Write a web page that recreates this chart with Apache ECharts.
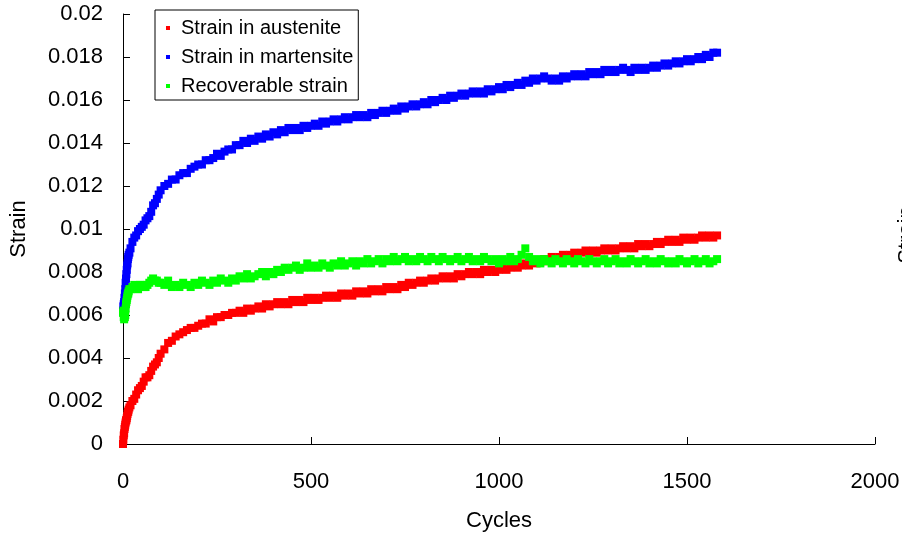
<!DOCTYPE html>
<html>
<head>
<meta charset="utf-8">
<script src="https://cdn.jsdelivr.net/npm/echarts@6/dist/echarts.min.js"></script>
<style>html,body{margin:0;padding:0;background:#fff;}#c{width:902px;height:536px;}</style>
</head>
<body>
<div id="c"></div>
<script>
const cycles = [0,1,2,3,4,5,6,7,8,9,10,11,12,13,14,15,17,
20,25,30,35,40,45,50,55,60,65,70,75,80,85,90,95,100,
110,120,130,140,150,160,170,180,190,200,210,
220,230,240,250,260,270,280,290,300,310,
320,330,340,350,360,370,380,390,400,410,
420,430,440,450,460,470,480,490,500,510,
520,530,540,550,560,570,580,590,600,610,
620,630,640,650,660,670,680,690,700,710,
720,730,740,750,760,770,780,790,800,810,
820,830,840,850,860,870,880,890,900,910,
920,930,940,950,960,970,980,990,1000,1010,
1020,1030,1040,1050,1060,1070,1080,1090,1100,1110,
1120,1130,1140,1150,1160,1170,1180,1190,1200,1210,
1220,1230,1240,1250,1260,1270,1280,1290,1300,1310,
1320,1330,1340,1350,1360,1370,1380,1390,1400,1410,
1420,1430,1440,1450,1460,1470,1480,1490,1500,1510,
1520,1530,1540,1550,1560,1570,1580];

const austenite = [0.0000,0.0002,0.0004,0.0005,0.0007,0.0008,0.0009,0.0010,0.0011,0.0011,0.0012,0.0013,0.0014,0.0015,0.0015,0.0016,0.0017,
0.0018,0.0020,0.0021,0.0023,0.0025,0.0026,0.0027,0.0029,0.0031,0.0031,0.0032,0.0034,0.0036,0.0037,0.0038,0.0040,0.0042,
0.0044,0.0047,0.0048,0.0050,0.0051,0.0052,0.0053,0.0054,0.0054,0.0055,0.0056,
0.0056,0.0058,0.0057,0.0059,0.0059,0.0060,0.0060,0.0061,0.0061,0.0062,
0.0061,0.0063,0.0062,0.0063,0.0064,0.0063,0.0065,0.0064,0.0065,0.0066,
0.0065,0.0066,0.0065,0.0067,0.0066,0.0067,0.0066,0.0068,0.0067,0.0068,
0.0067,0.0068,0.0069,0.0068,0.0069,0.0068,0.0070,0.0069,0.0070,0.0069,
0.0071,0.0070,0.0071,0.0070,0.0072,0.0071,0.0072,0.0071,0.0073,0.0072,
0.0073,0.0072,0.0074,0.0073,0.0075,0.0074,0.0075,0.0076,0.0075,0.0076,
0.0077,0.0076,0.0077,0.0078,0.0077,0.0078,0.0077,0.0079,0.0078,0.0079,
0.0080,0.0079,0.0080,0.0079,0.0081,0.0080,0.0081,0.0080,0.0081,0.0082,
0.0081,0.0082,0.0083,0.0082,0.0083,0.0084,0.0083,0.0085,0.0084,0.0085,
0.0086,0.0085,0.0087,0.0086,0.0087,0.0088,0.0087,0.0088,0.0089,0.0088,
0.0089,0.0090,0.0089,0.0090,0.0089,0.0090,0.0091,0.0090,0.0091,0.0090,
0.0091,0.0092,0.0091,0.0092,0.0091,0.0093,0.0092,0.0093,0.0092,0.0093,
0.0094,0.0093,0.0094,0.0095,0.0094,0.0095,0.0094,0.0096,0.0095,0.0096,
0.0095,0.0096,0.0097,0.0096,0.0097,0.0096,0.0097];

const martensite = [0.0062,0.0064,0.0065,0.0066,0.0068,0.0070,0.0072,0.0075,0.0077,0.0079,0.0081,0.0083,0.0084,0.0086,0.0087,0.0088,0.0089,
0.0091,0.0094,0.0096,0.0097,0.0099,0.0100,0.0101,0.0102,0.0104,0.0105,0.0106,0.0108,0.0111,0.0112,0.0114,0.0116,0.0118,
0.0120,0.0121,0.0123,0.0123,0.0125,0.0126,0.0126,0.0128,0.0129,0.0130,0.0130,
0.0132,0.0132,0.0133,0.0135,0.0134,0.0136,0.0137,0.0137,0.0139,0.0139,
0.0141,0.0140,0.0142,0.0141,0.0143,0.0142,0.0144,0.0143,0.0145,0.0144,
0.0146,0.0145,0.0147,0.0146,0.0147,0.0146,0.0148,0.0147,0.0148,0.0149,
0.0148,0.0150,0.0149,0.0150,0.0151,0.0150,0.0151,0.0152,0.0151,0.0152,
0.0153,0.0152,0.0153,0.0152,0.0154,0.0153,0.0154,0.0155,0.0154,0.0155,
0.0156,0.0155,0.0157,0.0156,0.0157,0.0158,0.0157,0.0158,0.0159,0.0158,
0.0160,0.0159,0.0160,0.0161,0.0160,0.0162,0.0161,0.0162,0.0163,0.0162,
0.0163,0.0164,0.0163,0.0164,0.0163,0.0165,0.0164,0.0165,0.0166,0.0165,
0.0167,0.0166,0.0167,0.0168,0.0167,0.0169,0.0168,0.0170,0.0169,0.0170,
0.0171,0.0170,0.0169,0.0170,0.0169,0.0171,0.0170,0.0171,0.0172,0.0171,
0.0172,0.0171,0.0173,0.0172,0.0173,0.0172,0.0174,0.0173,0.0174,0.0173,
0.0174,0.0175,0.0174,0.0173,0.0175,0.0174,0.0175,0.0174,0.0175,0.0176,
0.0175,0.0176,0.0177,0.0176,0.0177,0.0178,0.0177,0.0178,0.0179,0.0178,
0.0179,0.0180,0.0179,0.0181,0.0180,0.0182,0.0182];

const recoverable = [0.0061,0.0062,0.0059,0.0058,0.0060,0.0059,0.0060,0.0063,0.0065,0.0066,0.0067,0.0068,0.0069,0.0070,0.0070,0.0071,0.0072,
0.0072,0.0073,0.0074,0.0073,0.0072,0.0074,0.0074,0.0073,0.0073,0.0074,0.0075,0.0076,0.0077,0.0076,0.0076,0.0075,0.0075,
0.0074,0.0076,0.0073,0.0074,0.0073,0.0075,0.0074,0.0073,0.0075,0.0074,0.0076,
0.0075,0.0074,0.0076,0.0075,0.0077,0.0076,0.0075,0.0077,0.0076,0.0078,
0.0077,0.0079,0.0077,0.0078,0.0079,0.0080,0.0078,0.0080,0.0079,0.0081,
0.0080,0.0082,0.0081,0.0082,0.0083,0.0081,0.0082,0.0084,0.0082,0.0083,
0.0082,0.0084,0.0083,0.0082,0.0084,0.0083,0.0085,0.0083,0.0084,0.0085,
0.0083,0.0085,0.0084,0.0086,0.0084,0.0085,0.0086,0.0084,0.0086,0.0085,
0.0087,0.0085,0.0086,0.0087,0.0085,0.0086,0.0085,0.0087,0.0086,0.0085,
0.0087,0.0086,0.0085,0.0087,0.0086,0.0085,0.0086,0.0087,0.0085,0.0086,
0.0087,0.0085,0.0086,0.0085,0.0087,0.0086,0.0085,0.0086,0.0084,0.0086,
0.0085,0.0087,0.0085,0.0086,0.0088,0.0091,0.0087,0.0085,0.0086,0.0084,
0.0086,0.0085,0.0084,0.0086,0.0085,0.0084,0.0086,0.0085,0.0084,0.0086,
0.0085,0.0084,0.0086,0.0085,0.0084,0.0085,0.0086,0.0084,0.0085,0.0086,
0.0084,0.0085,0.0084,0.0086,0.0085,0.0084,0.0085,0.0086,0.0084,0.0085,
0.0084,0.0086,0.0085,0.0084,0.0085,0.0084,0.0086,0.0085,0.0084,0.0085,
0.0086,0.0084,0.0085,0.0086,0.0084,0.0085,0.0086];

const seriesNames = ['Strain in austenite', 'Strain in martensite', 'Recoverable strain'];
const seriesColors = ['#FF0000', '#0000FF', '#00FF00'];
const seriesValues = [austenite, martensite, recoverable];

const FONT = '"Liberation Sans", Arial, sans-serif';
const chart = echarts.init(document.getElementById('c'), null, {renderer: 'canvas'});

const series = seriesNames.map((name, i) => ({
  name: name,
  type: 'scatter',
  symbol: 'rect',
  symbolSize: 8,
  itemStyle: {color: seriesColors[i], opacity: 1},
  emphasis: {disabled: true},
  animation: false,
  data: cycles.map((c, k) => [c, seriesValues[i][k]])
}));

chart.setOption({
  animation: false,
  backgroundColor: '#ffffff',
  textStyle: {fontFamily: FONT},
  grid: {left: 123, right: 27, top: 14, bottom: 92, containLabel: false, outerBoundsMode: 'none'},
  xAxis: {
    type: 'value', min: 0, max: 2000, interval: 500,
    name: 'Cycles', nameLocation: 'middle', nameGap: 66,
    nameTextStyle: {color: '#000', fontSize: 22, fontFamily: FONT},
    axisLine: {show: true, lineStyle: {color: '#000', width: 1}},
    axisTick: {show: true, inside: true, length: 7, lineStyle: {color: '#000'}},
    axisLabel: {color: '#000', fontSize: 22, margin: 27, fontFamily: FONT,
      formatter: v => String(v)},
    splitLine: {show: false}
  },
  yAxis: {
    type: 'value', min: 0, max: 0.02, interval: 0.002,
    name: 'Strain', nameLocation: 'middle', nameGap: 93, nameRotate: 90,
    nameTextStyle: {color: '#000', fontSize: 22, fontFamily: FONT},
    axisLine: {show: true, lineStyle: {color: '#000', width: 1}},
    axisTick: {show: true, inside: true, length: 7, lineStyle: {color: '#000'}},
    axisLabel: {color: '#000', fontSize: 22, margin: 20, fontFamily: FONT,
      formatter: v => String(parseFloat(v.toFixed(3)))},
    splitLine: {show: false}
  },
  legend: {
    orient: 'vertical', left: 155, top: 10,
    data: seriesNames.map(n => ({name: n, icon: 'rect'})),
    itemWidth: 4, itemHeight: 4, itemGap: 9,
    padding: [8, 5, 4, 11],
    borderColor: '#000', borderWidth: 1, backgroundColor: '#fff',
    textStyle: {color: '#000', fontSize: 20, lineHeight: 20, fontFamily: FONT, padding: [0, 0, 0, 6]},
    selectedMode: false
  },
  graphic: [{
    type: 'text', x: 907, y: 235, rotation: Math.PI / 2,
    style: {text: 'Strain', fontSize: 22, fontFamily: FONT, fill: '#000', align: 'center', verticalAlign: 'middle'}
  }],
  series: series
});
</script>
</body>
</html>
